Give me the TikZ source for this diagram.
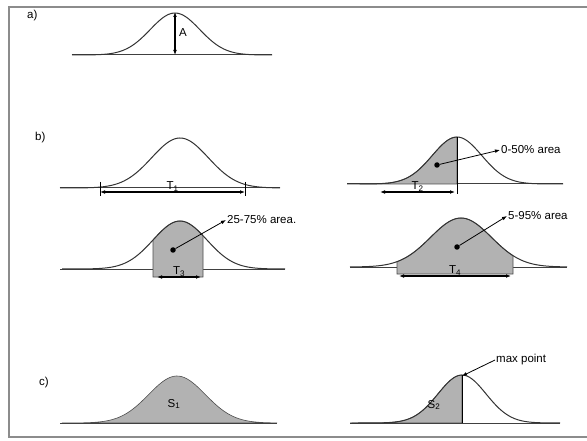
\documentclass[tikz,border=0pt]{standalone}
\usepackage{fontspec}
\setmainfont{Liberation Sans}
\usetikzlibrary{arrows.meta}
\begin{document}
\begin{tikzpicture}[x=1pt, y=-1pt,
	declare function={g(\x,\c,\s)=exp(-((\x-\c)/\s)^2);},
	curve/.style={line width=1pt, black!80},
	axis/.style={line width=1pt, black!75},
	area/.style={fill=black!30, draw=black!70, line width=0.6pt},
	span/.style={line width=1.1pt, {Latex[length=5pt]}-{Latex[length=5pt]}},
	lab/.style={font=\fontsize{11.5}{13}\selectfont, inner sep=1pt},
	dot/.style={circle, fill=black, inner sep=0pt, minimum size=5.5pt},
	pointer/.style={line width=0.8pt, -{Latex[length=5pt]}}]
	\useasboundingbox (0,0) rectangle (587,441);
	\draw[black!45, line width=1.5pt] (620,7) -- (9,7) -- (9,437) -- (620,437);

	% a)
	\node[lab, anchor=west] (labA) at (26,16) {a)};
	\draw[axis] (72,55) -- (272,55);
	\draw[curve] plot[domain=72:272, samples=80] (\x, {55-42*g(\x,175,35)});
	\coordinate (aTop) at (175,12);
	\coordinate (aBot) at (175,55);
	\draw[span] (aTop) -- (aBot);
	\node[lab, anchor=west] (ampl) at (178,33) {A};

	% b)
	\node[lab, anchor=west] (labB) at (34,138) {b)};
	% b1
	\draw[axis] (60,188) -- (280,188);
	\draw[curve] plot[domain=60:280, samples=80] (\x, {188-50*g(\x,180,40)});
	\coordinate (t1l) at (100,192);
	\coordinate (t1r) at (245,192);
	\draw[line width=0.8pt] (100,182) --++ (0,14) (245,182) --++ (0,14);
	\draw[span] (t1l) -- node[lab, above, inner sep=0pt] {T\textsubscript{1}} (t1r);
	% b2
	\draw[axis] (347,184) -- (563,184);
	\fill[area] (360,184) -- plot[domain=360:457, samples=50] (\x, {184-47*g(\x,457,35)}) -- (457,184) -- cycle;
	\draw[curve] plot[domain=347:563, samples=80] (\x, {184-47*g(\x,457,35)});
	\draw[line width=0.9pt] (457,137) -- (457,194);
	\coordinate (t2l) at (380,192);
	\coordinate (t2r) at (455,192);
	\draw[span] (t2l) -- node[lab, above, inner sep=0pt] {T\textsubscript{2}} (t2r);
	\node[dot] (dotB2) at (437,165) {};
	\node[lab, anchor=west] (areaB2) at (500,150) {0-50\% area};
	\draw[pointer] (dotB2) -- (areaB2.west);
	% b3
	\draw[axis] (60,269) -- (285,269);
	\fill[area] (153,277) -- plot[domain=153:203, samples=40] (\x, {269-48*g(\x,180,38)}) -- (203,277) -- cycle;
	\draw[curve] plot[domain=62:285, samples=80] (\x, {269-48*g(\x,180,38)});
	\coordinate (t3l) at (157,277);
	\coordinate (t3r) at (201,277);
	\draw[span] (t3l) -- node[lab, above, inner sep=0pt] {T\textsubscript{3}} (t3r);
	\node[dot] (dotB3) at (173,250) {};
	\node[lab, anchor=west] (areaB3) at (226,220) {25-75\% area.};
	\draw[pointer] (dotB3) -- (areaB3.west);
	% b4
	\draw[axis] (350,267) -- (567,267);
	\fill[area] (397,274) -- plot[domain=397:513, samples=60] (\x, {267-49*g(\x,461,43)}) -- (513,274) -- cycle;
	\draw[curve] plot[domain=350:567, samples=80] (\x, {267-49*g(\x,461,43)});
	\coordinate (t4l) at (399,276);
	\coordinate (t4r) at (511,276);
	\draw[span] (t4l) -- node[lab, above, inner sep=0pt] {T\textsubscript{4}} (t4r);
	\node[dot] (dotB4) at (457,247) {};
	\node[lab, anchor=west] (areaB4) at (507,216) {5-95\% area};
	\draw[pointer] (dotB4) -- (areaB4.west);

	% c)
	\node[lab, anchor=west] (labC) at (38,383) {c)};
	% c1
	\fill[area] plot[domain=62:277, samples=80] (\x, {423-47*g(\x,177,40)}) -- cycle;
	\draw[axis] (60,423) -- (277,423);
	\node[lab] (s1) at (174,404) {S\textsubscript{1}};
	% c2
	\fill[area] (352,423) -- plot[domain=352:462, samples=50] (\x, {423-48*g(\x,462,34)}) -- (462,423) -- cycle;
	\draw[axis] (350,423) -- (560,423);
	\draw[curve] plot[domain=350:560, samples=80] (\x, {423-48*g(\x,462,34)});
	\draw[line width=0.9pt] (462,375) -- (462,423);
	\coordinate (c2Peak) at (462,376);
	\node[lab] (s2) at (434,405) {S\textsubscript{2}};
	\node[lab, anchor=west] (maxLab) at (495,360) {max point};
	\draw[pointer] (maxLab.west) -- (c2Peak);
\end{tikzpicture}
\end{document}
